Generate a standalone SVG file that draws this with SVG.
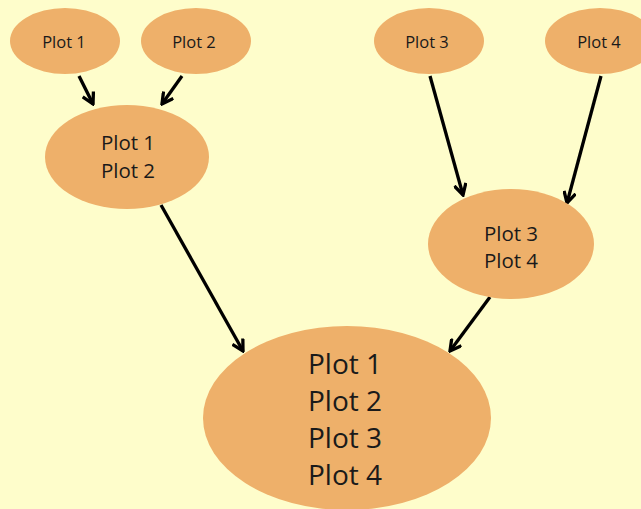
<svg xmlns="http://www.w3.org/2000/svg" width="641" height="509" viewBox="0 0 641 509">
<style>
.node{fill:#EEB06A;}
.t{font-family:"Open Sans","Liberation Sans",sans-serif;fill:#1a1a1a;text-anchor:middle;}
.s{font-size:16.5px;}
.m{font-size:20.5px;}
.l{font-size:28px;}
.edge{stroke:#000;stroke-width:3.3;fill:none;marker-end:url(#arr);}
</style>
<defs>
<marker id="arr" markerUnits="userSpaceOnUse" viewBox="0 0 14 14" refX="12" refY="7" markerWidth="14" markerHeight="14" orient="auto">
<path d="M1,1 L12,7 L1,13" fill="none" stroke="#000" stroke-width="3.3" stroke-linejoin="miter"/>
</marker>
</defs>
<rect width="641" height="509" fill="#FEFDCB"/>
<g id="connectors">
<line class="edge" x1="79" y1="76" x2="93" y2="104"/>
<line class="edge" x1="182" y1="76" x2="162" y2="104"/>
<line class="edge" x1="430" y1="76" x2="463" y2="195"/>
<line class="edge" x1="601" y1="76" x2="567" y2="203"/>
<line class="edge" x1="161" y1="205" x2="243" y2="351"/>
<line class="edge" x1="490" y1="297" x2="450" y2="351"/>
</g>
<g id="plot1"><ellipse class="node" cx="65" cy="41" rx="55" ry="33"/><text class="t s" x="64" y="48">Plot 1</text></g>
<g id="plot2"><ellipse class="node" cx="196" cy="41" rx="55" ry="33"/><text class="t s" x="194" y="48">Plot 2</text></g>
<g id="plot3"><ellipse class="node" cx="429" cy="41" rx="55" ry="33"/><text class="t s" x="427" y="48">Plot 3</text></g>
<g id="plot4"><ellipse class="node" cx="600" cy="41" rx="55" ry="33"/><text class="t s" x="599" y="48">Plot 4</text></g>
<g id="plot12"><ellipse class="node" cx="127" cy="157" rx="82" ry="52"/><text class="t m" x="128" y="150">Plot 1</text><text class="t m" x="128" y="178">Plot 2</text></g>
<g id="plot34"><ellipse class="node" cx="511" cy="244" rx="83" ry="55"/><text class="t m" x="511" y="241">Plot 3</text><text class="t m" x="511" y="268">Plot 4</text></g>
<g id="plot1234"><ellipse class="node" cx="347" cy="418" rx="144" ry="92"/><text class="t l" x="345" y="374">Plot 1</text><text class="t l" x="345" y="411">Plot 2</text><text class="t l" x="345" y="448">Plot 3</text><text class="t l" x="345" y="485">Plot 4</text></g>
</svg>
